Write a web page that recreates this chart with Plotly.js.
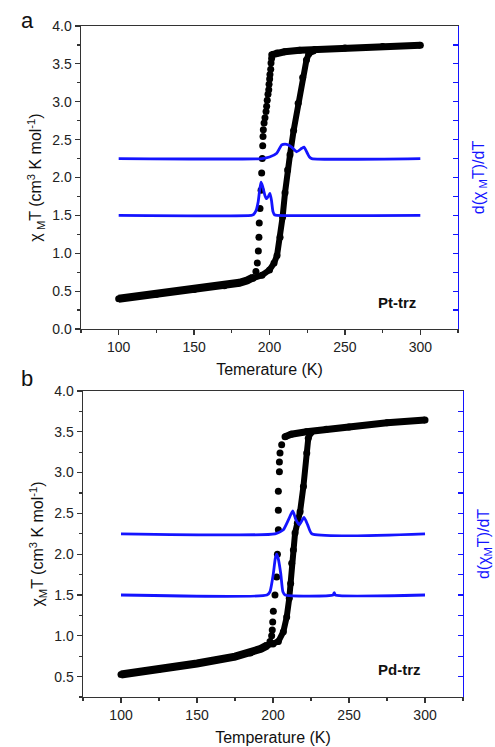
<!DOCTYPE html>
<html>
<head>
<meta charset="utf-8">
<script src="https://cdn.plot.ly/plotly-3.0.1.min.js"></script>
<style>html,body{margin:0;padding:0;background:#fff;}#chart{width:495px;height:747px;}</style>
</head>
<body>
<div id="chart"></div>
<script>
// ---------- Panel a : Pt-trz ----------
var ptLowT   = [100,125,150,170,180,185,189];
var ptLowChi = [0.40,0.46,0.52,0.57,0.61,0.64,0.68];
var ptHighT   = [201.5,205,210,220,230,250,275,300];
var ptHighChi = [3.62,3.645,3.66,3.68,3.69,3.71,3.73,3.745];
var ptHeatT   = [189,195,200,203,205,207,208.7,210.3,212,213.6,216,219,222,224.5,226,229];
var ptHeatChi = [0.67,0.71,0.78,0.87,0.97,1.21,1.48,1.80,2.10,2.30,2.62,2.98,3.32,3.55,3.63,3.67];
var ptCoolT   = [201.4,201.0,200.8,200.3,200.1,199.7,199.5,199.0,198.5,198.1,197.7,197.0,196.4,195.9,195.7,195.5,195.2,194.8,194.4,193.7,193.2,193.0,192.6,191.9,191.0];
var ptCoolChi = [3.57,3.51,3.43,3.36,3.30,3.23,3.16,3.10,3.02,2.94,2.87,2.79,2.72,2.63,2.54,2.42,2.25,2.06,1.83,1.59,1.40,1.21,1.03,0.87,0.76];
var ptDHeatT = [100,195,200,204.8,208.1,210.3,212.5,214.7,218,221.4,222.9,225.1,226.5,228,300];
var ptDHeat  = [2.25,2.25,2.27,2.32,2.43,2.44,2.43,2.40,2.34,2.385,2.40,2.32,2.27,2.25,2.25];
var ptDCoolT = [100,188,189.3,191,192.5,193.5,194.4,195.5,197,198.1,199.5,200.3,201.3,202.3,203.5,205,300];
var ptDCool  = [1.50,1.50,1.51,1.56,1.68,1.84,1.94,1.88,1.76,1.72,1.76,1.79,1.70,1.55,1.505,1.50,1.50];

// ---------- Panel b : Pd-trz ----------
var pdLowT   = [100,125,150,175,185,192,196];
var pdLowChi = [0.525,0.59,0.66,0.745,0.79,0.84,0.88];
var pdHighT   = [207.9,212,222,235,250,275,300];
var pdHighChi = [3.44,3.47,3.50,3.53,3.56,3.61,3.645];
var pdHeatT   = [196,200,203.5,206.8,209,210.7,211.6,212.3,213.4,214.5,216,217.8,220,222.2,223.2,225];
var pdHeatChi = [0.88,0.90,0.93,1.05,1.23,1.46,1.64,1.89,2.05,2.26,2.38,2.52,2.83,3.24,3.42,3.49];
var pdCoolT   = [205.7,204.6,204.2,204.2,203.5,203.5,203.5,202.9,202.4,201.3,200.2,199.8,199.5,199.1,198.0];
var pdCoolChi = [3.34,3.24,3.13,3.01,2.77,2.54,2.30,2.00,1.72,1.50,1.30,1.17,1.07,1.00,0.93];
var pdDHeatT = [100,201.3,206.8,210.1,213,215.1,217.3,220.4,222.8,225.5,300];
var pdDHeat  = [2.25,2.25,2.30,2.42,2.53,2.42,2.36,2.45,2.36,2.25,2.25];
var pdDCoolT = [100,196,198,200.2,201.5,202.4,203.5,205.1,206.5,208,239.5,240.3,241,300];
var pdDCool  = [1.50,1.50,1.54,1.76,1.95,2.00,1.94,1.76,1.54,1.50,1.50,1.53,1.50,1.50];

var BLUE = '#1414ff';
function band(x, y, xa, ya, w){
  return {x:x, y:y, xaxis:xa, yaxis:ya, type:'scatter', mode:'lines+markers',
    line:{color:'#000', width:w}, marker:{color:'#000', size:7}, hoverinfo:'skip'};
}
function dots(x, y, xa, ya){
  return {x:x, y:y, xaxis:xa, yaxis:ya, type:'scatter', mode:'markers',
    marker:{color:'#000', size:7}, hoverinfo:'skip'};
}
function deriv(x, y, xa, ya){
  return {x:x, y:y, xaxis:xa, yaxis:ya, type:'scatter', mode:'lines',
    line:{color:BLUE, width:2.8, shape:'spline', smoothing:0.5}, hoverinfo:'skip'};
}

var data = [
  band(ptLowT, ptLowChi, 'x', 'y', 8),
  band(ptHighT, ptHighChi, 'x', 'y', 7),
  band(ptHeatT, ptHeatChi, 'x', 'y', 6),
  dots(ptCoolT, ptCoolChi, 'x', 'y'),
  deriv(ptDHeatT, ptDHeat, 'x', 'y2'),
  deriv(ptDCoolT, ptDCool, 'x', 'y2'),
  band(pdLowT, pdLowChi, 'x2', 'y3', 8),
  band(pdHighT, pdHighChi, 'x2', 'y3', 7),
  band(pdHeatT, pdHeatChi, 'x2', 'y3', 6),
  dots(pdCoolT, pdCoolChi, 'x2', 'y3'),
  deriv(pdDHeatT, pdDHeat, 'x2', 'y4'),
  deriv(pdDCoolT, pdDCool, 'x2', 'y4')
];

var AX = '#333';
function xax(dom, anchor, title){
  return {domain:dom, anchor:anchor, range:[75,325], tick0:0, dtick:50,
    ticks:'outside', ticklen:5, tickwidth:1.2, tickcolor:AX,
    minor:{dtick:25, ticks:'outside', ticklen:3, tickwidth:1.2, tickcolor:AX, showgrid:false},
    showline:true, linecolor:AX, linewidth:1.4, mirror:true,
    showgrid:false, zeroline:false, tickfont:{size:14, color:'#222'},
    title:{text:title, font:{size:16, color:'#111'}, standoff:9}};
}
function yax(dom, anchor, rng, title){
  return {domain:dom, anchor:anchor, range:rng, tick0:0, dtick:0.5, tickformat:'.1f',
    ticks:'outside', ticklen:5, tickwidth:1.2, tickcolor:AX,
    minor:{dtick:0.25, ticks:'outside', ticklen:3, tickwidth:1.2, tickcolor:AX, showgrid:false},
    showline:true, linecolor:AX, linewidth:1.4,
    showgrid:false, zeroline:false, tickfont:{size:14, color:'#222'},
    title:{text:title, font:{size:16, color:'#111'}, standoff:6}};
}
function y2ax(over, anchor, rng, title){
  return {overlaying:over, side:'right', anchor:anchor, range:rng, tick0:0, dtick:0.25,
    ticks:'inside', ticklen:5, tickwidth:1.2, tickcolor:BLUE,
    showticklabels:false, showline:true, linecolor:BLUE, linewidth:1.4,
    showgrid:false, zeroline:false,
    title:{text:title, font:{size:16, color:BLUE}, standoff:14}};
}

var layout = {
  width:495, height:747, margin:{l:0, r:0, t:0, b:0},
  paper_bgcolor:'#fff', plot_bgcolor:'rgba(0,0,0,0)', showlegend:false,
  font:{family:'"Liberation Sans", Arial, sans-serif', size:14, color:'#222'},
  xaxis: xax([0.1636,0.9253], 'y', 'Temerature (K)'),
  yaxis: yax([0.5596,0.9652], 'x', [0,4], 'χ<sub> M</sub>T (cm<sup>3</sup> K mol<sup>-1</sup>)'),
  yaxis2: y2ax('y', 'x', [0,4], 'd(χ<sub> M</sub>T)/dT'),
  xaxis2: xax([0.1677,0.9354], 'y3', 'Temperature (K)'),
  yaxis3: yax([0.0669,0.4766], 'x2', [0.25,4], 'χ<sub>M</sub>T (cm<sup>3</sup> K mol<sup>-1</sup>)'),
  yaxis4: y2ax('y3', 'x2', [0.25,4], 'd(χ<sub>M</sub>T)/dT'),
  annotations:[
    {text:'a', xref:'paper', yref:'paper', x:27/495, y:1-20/747, xanchor:'center', yanchor:'middle', showarrow:false, font:{size:22, color:'#111'}},
    {text:'b', xref:'paper', yref:'paper', x:27/495, y:1-378/747, xanchor:'center', yanchor:'middle', showarrow:false, font:{size:22, color:'#111'}},
    {text:'<b>Pt-trz</b>', xref:'paper', yref:'paper', x:397/495, y:1-303/747, xanchor:'center', yanchor:'middle', showarrow:false, font:{size:15, color:'#111'}},
    {text:'<b>Pd-trz</b>', xref:'paper', yref:'paper', x:399/495, y:1-669/747, xanchor:'center', yanchor:'middle', showarrow:false, font:{size:15, color:'#111'}}
  ]
};

Plotly.newPlot('chart', data, layout, {staticPlot:true, displayModeBar:false});
</script>
</body>
</html>
